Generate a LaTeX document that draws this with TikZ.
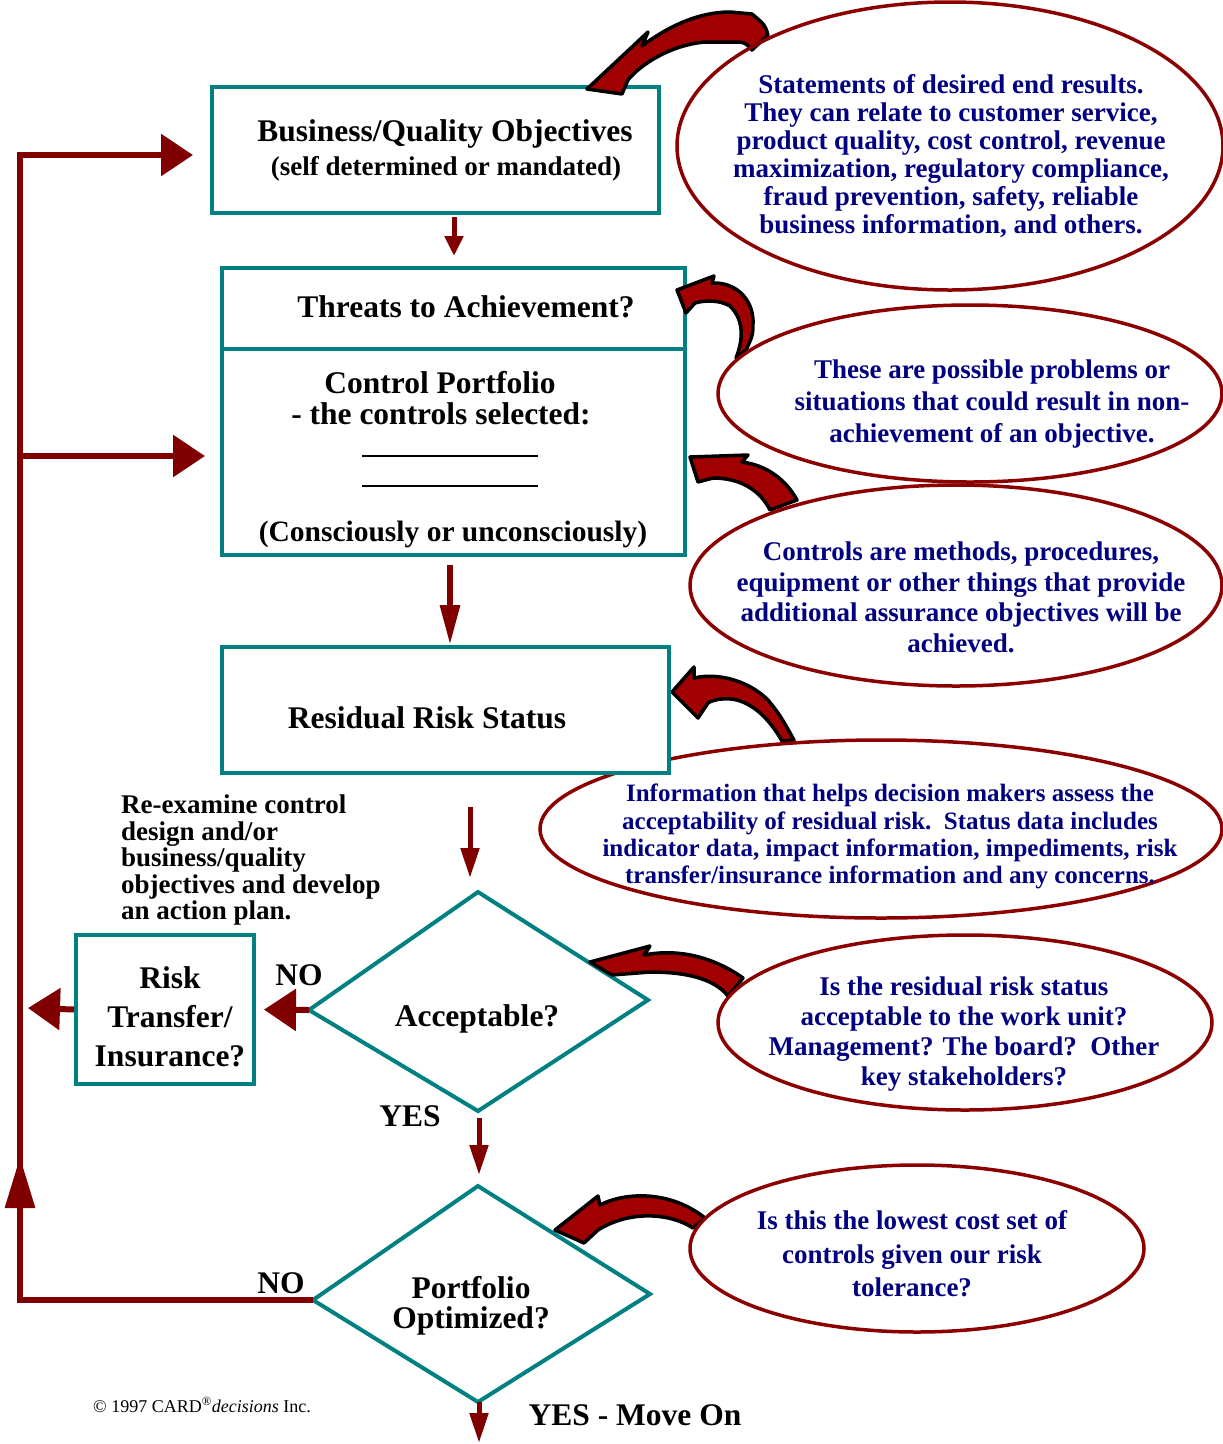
\documentclass[tikz,border=0pt]{standalone}
\usepackage{fontspec}
\setmainfont{Liberation Serif}
\usetikzlibrary{arrows.meta,shapes.geometric}
\definecolor{tealc}{RGB}{0,128,128}
\definecolor{arrc}{RGB}{128,0,0}
\definecolor{ellc}{RGB}{139,0,0}
\definecolor{curvc}{RGB}{160,0,0}
\definecolor{navyc}{RGB}{0,0,128}
\newcommand\myfs[2]{\fontsize{#1}{#2}\selectfont}
\begin{document}
\begin{tikzpicture}[x=1pt,y=-1pt,
  tbox/.style={draw=tealc, line width=4pt, fill=white, inner sep=0pt},
  dline/.style={draw=tealc, line width=4pt, line join=miter},
  ell/.style={draw=ellc, line width=3.5pt, ellipse, inner sep=0pt},
  etext/.style={text=navyc, align=center, inner sep=0pt, anchor=north, font=\myfs{27}{#1}\bfseries},
  mtext/.style={inner sep=0pt, anchor=base, font=\myfs{31.5}{36}\bfseries},
  sarrow/.style={draw=arrc, line width=5pt, -{Triangle[length=20pt,width=18pt]}},
  marrow/.style={draw=arrc, line width=5pt, -{Triangle[length=30pt,width=18pt]}},
  larrow/.style={draw=arrc, line width=6pt, -{Triangle[length=40pt,width=19pt]}},
  barrow/.style={draw=arrc, line width=6pt, line join=miter, -{Triangle[length=32pt,width=41pt]}},
  uarrow/.style={draw=arrc, line width=6pt, -{Triangle[length=51pt,width=29pt]}},
  curv/.style={fill=curvc, draw=black, line width=3.5pt, line join=round}
]
\useasboundingbox (0,0) rectangle (1223,1444);
\fill[white] (0,0) rectangle (1223,1444);

% ---------- boxes (1) ----------
\node[tbox, minimum width=447pt, minimum height=126pt] (box1) at (435.5,150) {};
\node[mtext] (t1a) at (445,141) {Business/Quality Objectives};
\node[mtext, font=\myfs{27}{30}\bfseries] (t1b) at (446,175) {(self determined or mandated)};

\node[tbox, minimum width=463pt, minimum height=287pt] (box2) at (453.5,411.5) {};
\draw[dline] ([yshift=62.5pt]box2.west) -- ([yshift=62.5pt]box2.east);
\node[mtext] (t2a) at (466,317) {Threats to Achievement?};
\node[mtext] (t2b) at (440,393) {Control Portfolio};
\node[mtext] (t2c) at (441,424) {- the controls selected:};
\node[inner sep=0pt] (r1) at (450,456) {\rule{176pt}{1.4pt}};
\node[inner sep=0pt] (r2) at (450,486) {\rule{176pt}{1.4pt}};
\node[mtext, font=\myfs{29.5}{34}\bfseries] (t2d) at (453,541) {(Consciously or unconsciously)};

% diamonds
\coordinate (d1n) at (478,892);
\coordinate (d1e) at (648,1000);
\coordinate (d1s) at (478,1111);
\coordinate (d1w) at (309,1010);
\draw[dline] (d1n) -- (d1e) -- (d1s) -- (d1w) -- cycle;
\node[mtext] (t4) at (477,1026) {Acceptable?};

\coordinate (d2n) at (478,1186);
\coordinate (d2e) at (650,1294);
\coordinate (d2s) at (478,1402);
\coordinate (d2w) at (313,1300);
\draw[dline] (d2n) -- (d2e) -- (d2s) -- (d2w) -- cycle;
\node[mtext, anchor=north, align=center, font=\myfs{31.5}{30}\bfseries] (t6) at (471,1276.5) {Portfolio\\Optimized?};

\node[tbox, minimum width=178pt, minimum height=149pt] (risk) at (165,1009.5) {};
\node[mtext, anchor=north, align=center, font=\myfs{31.5}{39}\bfseries] (t5) at (170,966.5) {Risk\\Transfer/\\Insurance?};

% ---------- curved arrows ----------
\path[curv] (587,89) -- (648,32) -- (642,46) .. controls (670,25) and (700,12) .. (730,12) -- (752,14) .. controls (765,25) .. (768,35) -- (752,50) .. controls (745,42) .. (730,42) -- (705,42) .. controls (670,45) and (640,65) .. (628,80) -- (622,94) -- cycle;
\path[curv] (677,290) -- (714,276) -- (712,283) .. controls (735,282) and (752,298) .. (753,320) .. controls (753,335) .. (746,350) -- (736,358) .. controls (745,335) and (742,318) .. (730,306) .. controls (720,300) and (705,300) .. (695,303) -- (686,313) -- cycle;
\path[curv] (690,457) -- (748,455) -- (742,462) .. controls (765,465) and (785,478) .. (797,500) -- (770,510) .. controls (760,490) and (740,478) .. (713,478) -- (698,482) -- cycle;
\path[curv] (672,692) -- (694,667) -- (694,678) .. controls (720,672) and (750,682) .. (768,700) .. controls (780,715) .. (794,740) -- (782,741) .. controls (770,720) and (755,705) .. (737,700) .. controls (725,697) and (712,700) .. (708,703) -- (698,718) -- cycle;
\path[curv] (590,962) -- (650,946) -- (644,955) .. controls (680,948) and (715,958) .. (743,978) -- (728,996) .. controls (715,980) and (690,972) .. (650,972) -- (612,975) -- cycle;
\path[curv] (555,1230) -- (598,1196) -- (600,1205) .. controls (625,1192) and (670,1190) .. (705,1218) -- (693,1228) .. controls (670,1213) and (630,1210) .. (598,1230) -- (584,1243) -- cycle;

% ---------- ellipses ----------
\node[ell, minimum width=546pt, minimum height=288pt] (e1) at (950,146) {};
\node[etext=28] (et1) at (951,74) {Statements of desired end results.\\They can relate to customer service,\\product quality, cost control, revenue\\maximization, regulatory compliance,\\fraud prevention, safety, reliable\\business information, and others.};

\node[ell, minimum width=504pt, minimum height=177pt] (e2) at (970,393.5) {};
\node[etext=32] (et2) at (992,360) {These are possible problems or\\situations that could result in non-\\achievement of an objective.};

\node[ell, minimum width=532pt, minimum height=201pt] (e3) at (956,585.5) {};
\node[etext=30.7] (et3) at (961,541.6) {Controls are methods, procedures,\\equipment or other things that provide\\additional assurance objectives will be\\achieved.};

\node[ell, minimum width=682pt, minimum height=178pt] (e4) at (881,829) {};
\node[etext=27.3, font=\myfs{25}{27.3}\bfseries] (et4) at (890,784) {Information that helps decision makers assess the\\acceptability of residual risk.\ \ Status data includes\\indicator data, impact information, impediments, risk\\transfer/insurance information and any concerns.};

\node[ell, minimum width=494pt, minimum height=175pt] (e5) at (965,1022.5) {};
\node[etext=30] (et5) at (964,976.6) {Is the residual risk status\\acceptable to the work unit?\\Management? The board?\ \ Other\\key stakeholders?};

\node[ell, minimum width=454pt, minimum height=167pt] (e6) at (917,1248.5) {};
\node[etext=33.5] (et6) at (912,1210.6) {Is this the lowest cost set of\\controls given our risk\\tolerance?};

% ---------- box 3 ----------
\node[tbox, minimum width=447pt, minimum height=126pt] (box3) at (445.5,710) {};
\node[mtext] (t3) at (427,728) {Residual Risk Status};

% ---------- labels ----------
\node[mtext] (no1) at (299,985) {NO};
\node[mtext] (yes1) at (410,1126) {YES};
\node[mtext] (no2) at (281,1293) {NO};
\node[mtext] (t7) at (635,1425) {YES - Move On};
\node[inner sep=0pt, anchor=north west, align=left, font=\myfs{27}{26.5}\bfseries] (t8) at (121,794.6) {Re-examine control\\design and/or\\business/quality\\objectives and develop\\an action plan.};
\node[inner sep=0pt, anchor=base west, font=\myfs{18}{20}] (cp) at (93,1412) {© 1997 CARD\textsuperscript{®}\textit{decisions} Inc.};

% ---------- connectors ----------
\coordinate (c1) at (20,1300);
\coordinate (c2) at (20,155);
\coordinate (c3) at (20,456);
\coordinate (c4) at (20,1215);
\coordinate (c5) at (20,1157);
\coordinate (exit) at (479,1443);
\coordinate (exit2) at (28,1008);

\draw[sarrow, shorten <=2pt, shorten >=10pt] ([xshift=18.5pt]box1.south) -- ([xshift=0.5pt]box2.north);
\draw[larrow, shorten <=8pt] ([xshift=-3.5pt]box2.south) -- ([xshift=4.5pt]box3.north);
\draw[marrow, shorten <=32pt, shorten >=14pt] ([xshift=24.5pt]box3.south) -- ([xshift=-8pt]d1n);
\draw[marrow, shorten <=7pt, shorten >=11pt] ([xshift=1pt]d1s) -- ([xshift=1pt]d2n);
\draw[marrow] ([xshift=1pt]d2s) -- (exit);
\draw[barrow, shorten >=8pt] (d1w) -- (risk.east);
\draw[barrow] (risk.west) -- (exit2);
\draw[barrow, shorten >=17pt] (d2w) -- (c1) -- (c2) -- ([yshift=-5pt]box1.west);
\draw[barrow, shorten >=15pt] (c3) -- ([yshift=-44.5pt]box2.west);
\draw[uarrow] (c4) -- (c5);
\end{tikzpicture}
\end{document}
